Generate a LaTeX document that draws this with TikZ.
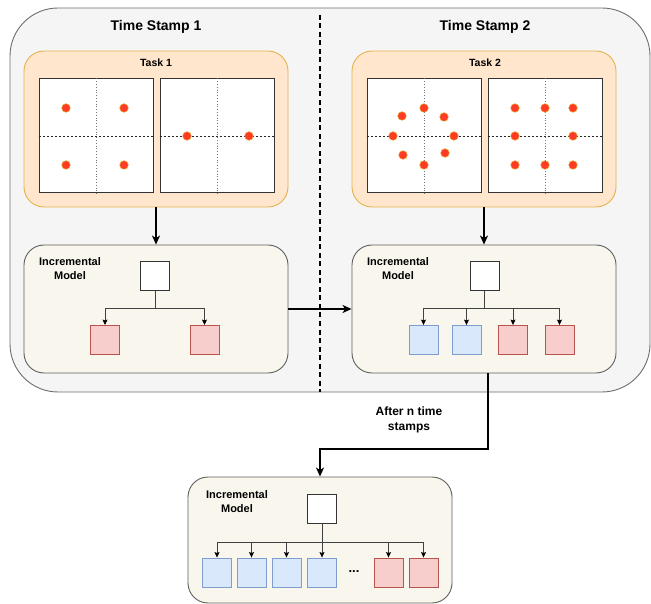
\documentclass[tikz,border=0pt]{standalone}
\usepackage{fontspec}
\setmainfont{Liberation Sans}
\usetikzlibrary{arrows.meta,calc}
\definecolor{outerfill}{HTML}{F5F5F5}
\definecolor{outerdraw}{HTML}{6E6E6E}
\definecolor{taskfill}{HTML}{FFE6CC}
\definecolor{taskdraw}{HTML}{E3B44E}
\definecolor{modelfill}{HTML}{F9F7ED}
\definecolor{modeldraw}{HTML}{5E5E5E}
\definecolor{redfill}{HTML}{F8CECC}
\definecolor{reddraw}{HTML}{B85450}
\definecolor{bluefill}{HTML}{DAE8FC}
\definecolor{bluedraw}{HTML}{7E9DCC}
\definecolor{dotfill}{HTML}{FF3B25}
\definecolor{dotdraw}{HTML}{E39A1E}
\definecolor{griddraw}{HTML}{333333}
\tikzset{
  x=1pt,y=-1pt,
  outerbox/.style={draw=outerdraw,fill=outerfill,line width=0.9pt,rounded corners=48pt,inner sep=0pt},
  taskbox/.style={draw=taskdraw,fill=taskfill,line width=0.9pt,rounded corners=20pt,inner sep=0pt},
  modelbox/.style={draw=modeldraw,fill=modelfill,line width=0.9pt,rounded corners=20pt,inner sep=0pt},
  gridbox/.style={draw=griddraw,fill=white,line width=1pt,inner sep=0pt,minimum width=114pt,minimum height=114pt},
  headbox/.style={draw=black!80,fill=white,line width=0.9pt,inner sep=0pt,minimum size=29pt},
  redbox/.style={draw=reddraw,fill=redfill,line width=0.9pt,inner sep=0pt,minimum size=29pt},
  bluebox/.style={draw=bluedraw,fill=bluefill,line width=0.9pt,inner sep=0pt,minimum size=29pt},
  dot/.style={circle,draw=dotdraw,fill=dotfill,line width=0.5pt,inner sep=0pt,minimum size=8.5pt},
  vdiv/.style={draw=black!55,line width=0.8pt,dotted},
  hdiv/.style={draw=black!85,line width=0.7pt,dash pattern=on 2.5pt off 1.5pt},
  bigarrow/.style={draw=black,line width=1.8pt,-{Stealth[length=9pt,width=8pt,inset=2.5pt]}},
  smallarrow/.style={draw=black!75,line width=0.8pt,-{Stealth[length=5.5pt,width=5pt,inset=1pt,color=black,fill=black]}},
  smallline/.style={draw=black!75,line width=0.8pt},
  tstitle/.style={font=\bfseries\fontsize{14}{16}\selectfont,inner sep=0pt},
  tasktitle/.style={font=\bfseries\fontsize{10.5}{12}\selectfont,inner sep=0pt},
  modeltitle/.style={font=\bfseries\fontsize{11}{14}\selectfont,align=center,inner sep=0pt},
  note/.style={font=\bfseries\fontsize{12}{15}\selectfont,align=center,inner sep=0pt},
}
\begin{document}
\begin{tikzpicture}
\useasboundingbox (0,0) rectangle (651,604);

% outer container
\node[outerbox,minimum width=640pt,minimum height=384pt] (outer) at (330,200) {};
\coordinate (dtop) at (320,15);
\coordinate (dbot) at (320,392);
\draw[line width=1.8pt,dash pattern=on 5pt off 3.5pt] (dtop) -- (dbot);
\node[tstitle] (ts1) at (156,27) {Time Stamp 1};
\node[tstitle] (ts2) at (485,27) {Time Stamp 2};

% task boxes
\node[taskbox,minimum width=264pt,minimum height=156pt] (task1) at (156,129) {};
\node[tasktitle] (t1lab) at (156,63) {Task 1};
\node[taskbox,minimum width=264pt,minimum height=156pt] (task2) at (484,129) {};
\node[tasktitle] (t2lab) at (485,63) {Task 2};

% grids of task 1
\node[gridbox] (g11) at (96,136) {};
\draw[vdiv] (g11.north) -- (g11.south);
\draw[hdiv] (g11.west) -- (g11.east);
\node[gridbox] (g12) at (217,136) {};
\draw[vdiv] (g12.north) -- (g12.south);
\draw[hdiv] (g12.west) -- (g12.east);
\foreach \p [count=\i] in {(66,108),(124,108),(66,165),(124,165),(187,136),(249,136)}
  \node[dot] (da\i) at \p {};

% grids of task 2
\node[gridbox] (g21) at (424,136) {};
\draw[vdiv] (g21.north) -- (g21.south);
\draw[hdiv] (g21.west) -- (g21.east);
\node[gridbox] (g22) at (545,136) {};
\draw[vdiv] (g22.north) -- (g22.south);
\draw[hdiv] (g22.west) -- (g22.east);
\foreach \p [count=\i] in {(424,108),(402,116),(444,117),(393,136),(454,136),(403,155),(445,153),(424,165)}
  \node[dot] (db\i) at \p {};
\foreach \p [count=\i] in {(515,108),(545,108),(573,108),(515,136),(573,136),(515,165),(545,165),(573,165)}
  \node[dot] (dc\i) at \p {};

% model 1
\node[modelbox,minimum width=264pt,minimum height=128pt] (model1) at (156,309) {};
\node[modeltitle] (m1lab) at (70,269) {Incremental\\Model};
\node[headbox] (h1) at (155,276) {};
\node[redbox] (r11) at (105,340) {};
\node[redbox] (r12) at (204.5,340) {};
\coordinate (j1) at (155,308);
\draw[smallline] (h1.south) -- (j1);
\draw[smallarrow] (j1) -| (r11.north);
\draw[smallarrow] (j1) -| (r12.north);

% model 2
\node[modelbox,minimum width=264pt,minimum height=128pt] (model2) at (484,309) {};
\node[modeltitle] (m2lab) at (398,269) {Incremental\\Model};
\node[headbox] (h2) at (484.5,276) {};
\node[bluebox] (b21) at (423.5,340) {};
\node[bluebox] (b22) at (466.5,340) {};
\node[redbox] (r21) at (513,340) {};
\node[redbox] (r22) at (559.5,340) {};
\coordinate (j2) at (484.5,308);
\draw[smallline] (h2.south) -- (j2);
\foreach \b in {b21,b22,r21,r22}
  \draw[smallarrow] (j2) -| (\b.north);

% model 3
\node[modelbox,minimum width=264pt,minimum height=126pt] (model3) at (320,540) {};
\node[modeltitle] (m3lab) at (237,502) {Incremental\\Model};
\node[headbox] (h3) at (322,508.5) {};
\node[bluebox] (b31) at (217,572.5) {};
\node[bluebox] (b32) at (251.5,572.5) {};
\node[bluebox] (b33) at (286.5,572.5) {};
\node[bluebox] (b34) at (322,572.5) {};
\node[font=\bfseries\fontsize{13}{14}\selectfont,inner sep=0pt] (dots) at (354,572) {...};
\node[redbox] (r31) at (388.5,572.5) {};
\node[redbox] (r32) at (423.5,572.5) {};
\coordinate (j3) at (322,542);
\draw[smallline] (h3.south) -- (j3);
\foreach \b in {b31,b32,b33,b34,r31,r32}
  \draw[smallarrow] (j3) -| (\b.north);

% main arrows
\draw[bigarrow] (task1.south) -- (model1.north);
\draw[bigarrow] (task2.south) -- (model2.north);
\draw[bigarrow] (model1.east) -- (model2.west);
\coordinate (turn) at (320,449);
\draw[bigarrow] ([xshift=4pt]model2.south) |- (turn) -- (model3.north);
\node[note] (after) at (409,420) {After n time\\stamps};
\end{tikzpicture}
\end{document}
